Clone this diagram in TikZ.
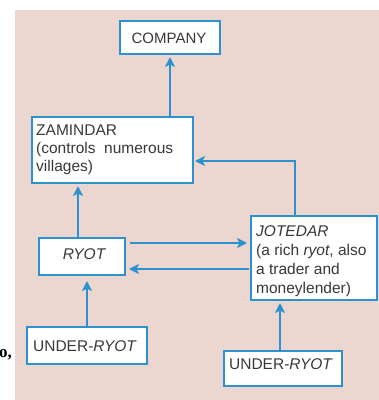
\documentclass[tikz,border=0pt]{standalone}
\usepackage{fontspec}
\setmainfont{Liberation Serif}
\newfontfamily\boxfont{Liberation Sans}
\usetikzlibrary{arrows.meta}
\definecolor{bgpink}{HTML}{EBD7D0}
\definecolor{lineblue}{HTML}{2C92CF}
\definecolor{txtgray}{HTML}{383838}
\tikzset{
  box/.style={draw=lineblue, line width=2pt, fill=white, anchor=north west, inner sep=0pt},
  label1/.style={text=txtgray, font=\boxfont\fontsize{15}{16}\selectfont, anchor=base, inner sep=0pt},
  multi/.style={text=txtgray, anchor=north west, align=left, inner sep=0pt},
  conn/.style={draw=lineblue, line width=2pt, -{Stealth[length=10pt,width=10pt,inset=2.5pt]}},
}
\begin{document}
\begin{tikzpicture}[x=1pt,y=-1pt]
\useasboundingbox (0,0) rectangle (379,400);
\fill[white] (0,0) rectangle (379,400);
\fill[bgpink] (15,10) rectangle (379,400);
\begin{scope}
\clip (0,0) rectangle (379,400);
\node[font=\bfseries\fontsize{17}{20}\selectfont, anchor=base west, inner sep=0pt] (frag) at (-1,357) {o,};
\end{scope}
% boxes
\node[box, minimum width=100pt, minimum height=33pt] (company) at (119,20) {};
\node[label1] (tcompany) at (169,43) {COMPANY};
\node[box, minimum width=161pt, minimum height=66pt] (zamindar) at (31,116) {};
\node[multi, font=\boxfont\fontsize{15.5}{18}\selectfont] (tzamindar) at (36,125) {ZAMINDAR\\(controls\ \ numerous\\villages)};
\node[box, minimum width=86pt, minimum height=37pt] (ryot) at (38,237) {};
\node[label1, font=\boxfont\fontsize{15.5}{16}\selectfont\itshape] (tryot) at (84,259) {RYOT};
\node[box, minimum width=126pt, minimum height=84pt] (jotedar) at (250,215) {};
\node[multi, font=\boxfont\fontsize{15.5}{19.3}\selectfont] (tjotedar) at (256,225) {\textit{JOTEDAR}\\(a rich \textit{ryot}, also\\a trader and\\moneylender)};
\node[box, minimum width=120pt, minimum height=37pt] (under1) at (26,326) {};
\node[label1, font=\boxfont\fontsize{15.5}{16}\selectfont] (tunder1) at (85,351) {UNDER-\textit{RYOT}};
\node[box, minimum width=118pt, minimum height=35pt] (under2) at (223,350) {};
\node[label1, font=\boxfont\fontsize{15.5}{16}\selectfont] (tunder2) at (281,369) {UNDER-\textit{RYOT}};
% connectors
\coordinate (zt) at (170,116);
\coordinate (ct) at (170,57);
\draw[conn] (zamindar.north -| zt) -- (ct);
\coordinate (rz) at (78,186);
\draw[conn] (ryot.north -| rz) -- (rz);
\coordinate (jbend) at (295,161);
\coordinate (ztip) at (195,161);
\draw[conn] (jotedar.north -| jbend) -- (jbend) -- (ztip);
\coordinate (ra) at (130,243);
\coordinate (ja) at (247,243);
\draw[conn] (ra) -- (ja);
\coordinate (jb) at (249,269);
\coordinate (rb) at (129,269);
\draw[conn] (jb) -- (rb);
\coordinate (u1) at (87,281);
\draw[conn] (under1.north -| u1) -- (u1);
\coordinate (u2) at (280,303);
\draw[conn] (under2.north -| u2) -- (u2);
\end{tikzpicture}
\end{document}
